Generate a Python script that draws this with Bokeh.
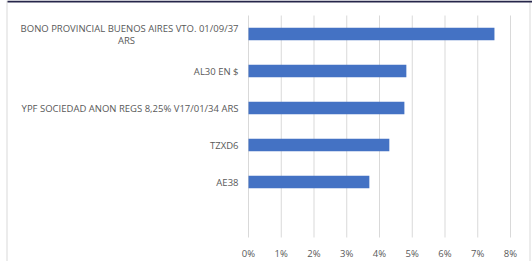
from bokeh.plotting import figure
from bokeh.models import Range1d, BoxAnnotation, ColumnDataSource
from bokeh.core.properties import value
from bokeh.embed import file_html
from bokeh.resources import INLINE

categories = ["BONO PROVINCIAL BUENOS AIRES VTO. 01/09/37 ARS",
              "AL30 EN $",
              "YPF SOCIEDAD ANON REGS 8,25% V17/01/34 ARS",
              "TZXD6",
              "AE38"]
values = [0.0751, 0.0482, 0.0476, 0.0430, 0.0369]
x_ticks = [0, 0.01, 0.02, 0.03, 0.04, 0.05, 0.06, 0.07, 0.08]
x_tick_labels = ["0%", "1%", "2%", "3%", "4%", "5%", "6%", "7%", "8%"]

FONT = "Open Sans"
GRAY = "#595959"
FS = "9.5px"

# layout geometry (pixels)
W, H = 532, 261
X0_PX = 248          # pixel of 0 %
PX_PER_UNIT = 3275   # pixels per 1.0 (i.e. 32.75 px per 1 %)
TOP_PX = 15          # top of category area
SLOT = 37            # px per category slot
n_slots = len(categories) + 1

x_start = -X0_PX / PX_PER_UNIT
x_end = (W - X0_PX) / PX_PER_UNIT
y_start = -0.5 - TOP_PX / SLOT
y_end = y_start + H / SLOT

positions = list(range(len(categories)))

p = figure(width=W, height=H, output_backend="svg", toolbar_location=None,
           x_range=Range1d(x_start, x_end), y_range=Range1d(y_end, y_start),
           min_border=0)
p.outline_line_color = None
p.axis.visible = False
p.grid.visible = False
p.background_fill_color = "white"
p.border_fill_color = "white"

# gridlines
p.segment(x0=x_ticks, x1=x_ticks, y0=[-0.5] * len(x_ticks),
          y1=[n_slots - 0.5] * len(x_ticks), line_color="#d9d9d9", line_width=1)

# bars
src = ColumnDataSource(dict(y=positions, right=values))
p.hbar(y="y", left=0, right="right", height=0.34, source=src,
       fill_color="#4472C4", line_color=None)

# x tick labels
p.text(x=x_ticks, y=[n_slots - 0.5 + 16 / SLOT] * len(x_ticks), text=x_tick_labels,
       text_align="center", text_baseline="middle", text_font=value(FONT),
       text_font_size=FS, text_color=GRAY)

# category labels (wrap long names)
MAXLEN = 44
LABEL_RIGHT_X = -10 / PX_PER_UNIT       # right edge of labels, 10px left of 0 %
WRAP_CENTER_X = -122 / PX_PER_UNIT      # centre of the wrapped second line
lab_x, lab_y, lab_text, lab_off = [], [], [], []
wrap_x, wrap_y, wrap_text, wrap_off = [], [], [], []
for pos, name in zip(positions, categories):
    if len(name) > MAXLEN:
        words = name.split(" ")
        lab_x.append(LABEL_RIGHT_X); lab_y.append(pos)
        lab_text.append(" ".join(words[:-1])); lab_off.append(-6)
        wrap_x.append(WRAP_CENTER_X); wrap_y.append(pos)
        wrap_text.append(words[-1]); wrap_off.append(6)
    else:
        lab_x.append(LABEL_RIGHT_X); lab_y.append(pos)
        lab_text.append(name); lab_off.append(0)

p.text(x=lab_x, y=lab_y, text=lab_text, y_offset=lab_off,
       text_align="right", text_baseline="middle", text_font=value(FONT),
       text_font_size=FS, text_color=GRAY)
p.text(x=wrap_x, y=wrap_y, text=wrap_text, y_offset=wrap_off,
       text_align="center", text_baseline="middle", text_font=value(FONT),
       text_font_size=FS, text_color=GRAY)

# chart border
p.add_layout(BoxAnnotation(left=6, right=7, left_units="screen", right_units="screen",
                           fill_color="#d9d9d9", fill_alpha=1, line_color=None))
p.add_layout(BoxAnnotation(left=529, right=530, left_units="screen", right_units="screen",
                           fill_color="#d9d9d9", fill_alpha=1, line_color=None))
p.add_layout(BoxAnnotation(left=7, left_units="screen", bottom=y_start + 2 / SLOT,
                           fill_color="#26264a", fill_alpha=1, line_color=None))

open("out.html", "w").write(file_html(p, INLINE))
